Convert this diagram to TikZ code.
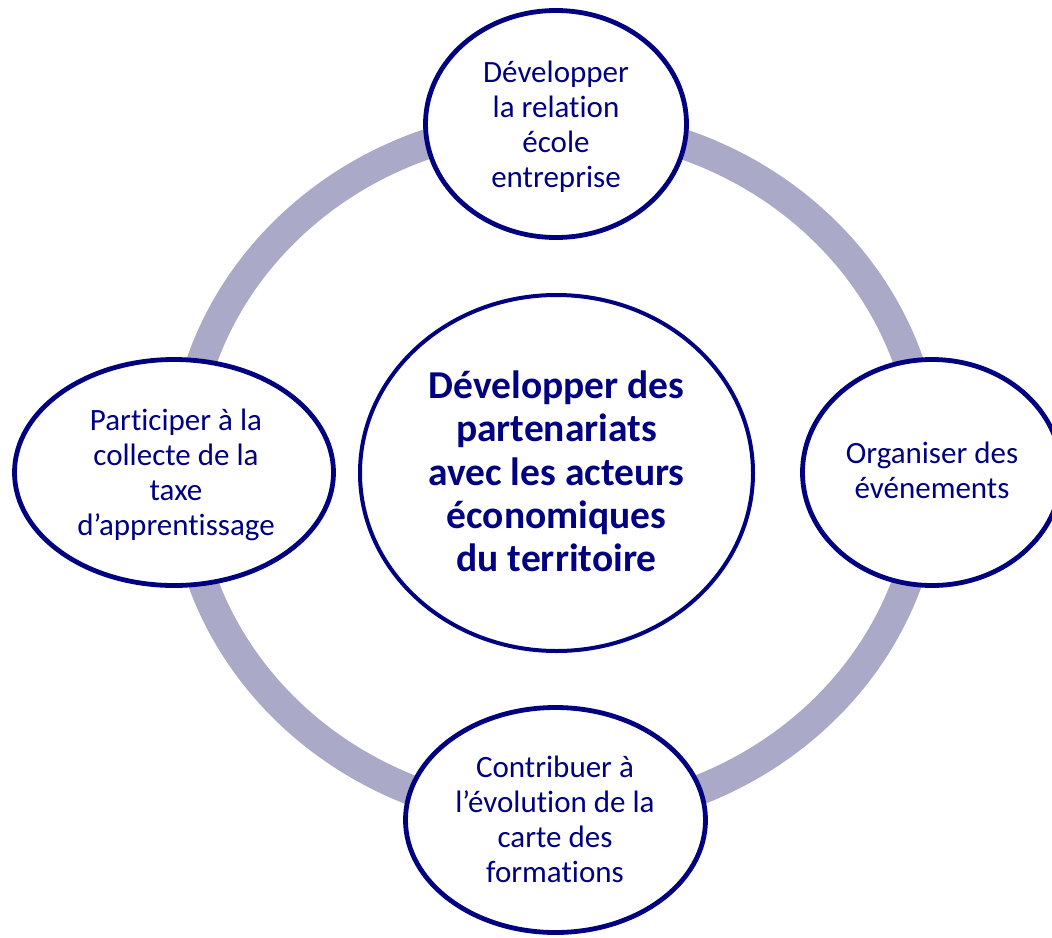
\documentclass[tikz,border=0pt]{standalone}
\usepackage{fontspec}
\setmainfont{Carlito}[Ligatures=NoCommon]
\usetikzlibrary{shapes.geometric}
\definecolor{navy}{RGB}{0,0,128}
\definecolor{ringcol}{RGB}{170,170,200}
\tikzset{
  outer/.style={ellipse, draw=navy, line width=4.8pt, fill=white, inner sep=0pt},
  central/.style={ellipse, draw=navy, line width=4pt, fill=white, inner sep=0pt},
  smalltext/.style={text=navy, align=center, font=\fontsize{31}{35}\selectfont, inner sep=0pt},
  bigtext/.style={text=navy, align=center, font=\fontsize{39.5}{43.3}\selectfont\bfseries, inner sep=0pt},
}
\begin{document}
\begin{tikzpicture}[x=1pt, y=-1pt]
\useasboundingbox (0,0) rectangle (1052,937);
% ring
\draw[ringcol, line width=30pt] (555,470) ellipse [x radius=372, y radius=347];
% ellipses
\node[central, minimum width=393pt, minimum height=356pt] (c) at (556.5,473) {};
\node[outer, minimum width=261pt, minimum height=227pt] (t) at (556,124) {};
\node[outer, minimum width=319pt, minimum height=226pt] (l) at (174,472.5) {};
\node[outer, minimum width=259pt, minimum height=226pt] (r) at (932,472.5) {};
\node[outer, minimum width=300pt, minimum height=225pt] (b) at (555.5,820) {};
% texts
\node[bigtext] (ct) at (556.5,471.3) {Développer des\\partenariats\\avec les acteurs\\économiques\\du territoire};
\node[smalltext] (tt) at (556,127) {Développer\\la relation\\école\\entreprise};
\node[smalltext] (lt) at (176,475) {Participer à la\\collecte de la\\taxe\\d’apprentissage};
\node[smalltext] (rt) at (932,470.7) {Organiser des\\événements};
\node[smalltext] (bt) at (555,819) {Contribuer à\\l’évolution de la\\carte des\\formations};
\end{tikzpicture}
\end{document}
